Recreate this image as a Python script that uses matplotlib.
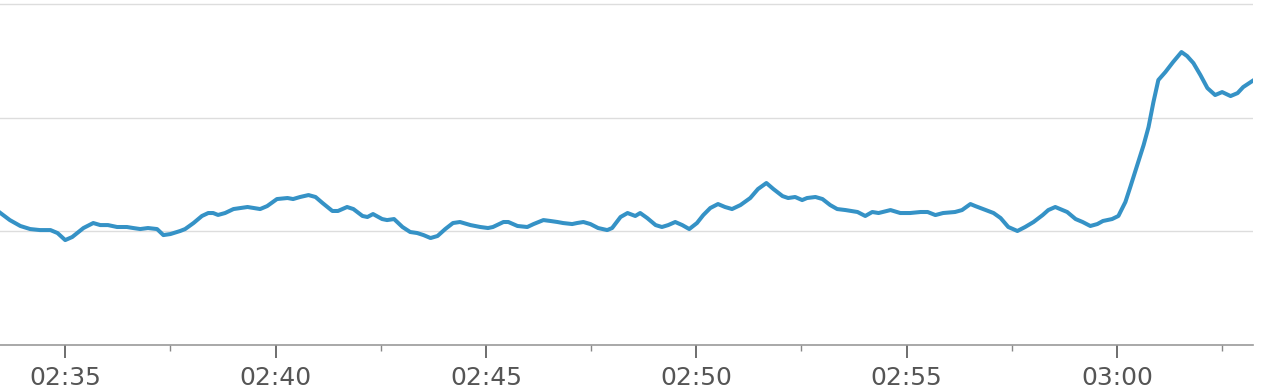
import pandas as pd
import numpy as np
import matplotlib
matplotlib.use('Agg')
import matplotlib.pyplot as plt
import matplotlib.dates as mdates

# Tiempos de las muestras (hora del dia)
tiempos = [
    "02:33:27", "02:33:41", "02:33:56", "02:34:10", "02:34:24", "02:34:39", "02:34:49",
    "02:35:00", "02:35:10", "02:35:26", "02:35:40", "02:35:50", "02:36:01", "02:36:14",
    "02:36:28", "02:36:37", "02:36:47", "02:36:58", "02:37:11", "02:37:20", "02:37:30",
    "02:37:44", "02:37:51", "02:38:03", "02:38:15", "02:38:24", "02:38:31", "02:38:38",
    "02:38:48", "02:39:00", "02:39:20", "02:39:38", "02:39:48", "02:40:02", "02:40:17",
    "02:40:25", "02:40:35", "02:40:47", "02:40:57", "02:41:07", "02:41:21", "02:41:29",
    "02:41:42", "02:41:51", "02:42:04", "02:42:11", "02:42:19", "02:42:32", "02:42:39",
    "02:42:49", "02:43:01", "02:43:12", "02:43:22", "02:43:31", "02:43:41", "02:43:51",
    "02:44:02", "02:44:13", "02:44:23", "02:44:38", "02:44:52", "02:45:03", "02:45:10",
    "02:45:25", "02:45:32", "02:45:45", "02:45:59", "02:46:08", "02:46:22", "02:46:32",
    "02:46:42", "02:46:50", "02:47:03", "02:47:10", "02:47:19", "02:47:29", "02:47:40",
    "02:47:53", "02:48:00", "02:48:12", "02:48:22", "02:48:33", "02:48:40", "02:48:50",
    "02:49:02", "02:49:11", "02:49:20", "02:49:30", "02:49:40", "02:49:50", "02:50:01",
    "02:50:10", "02:50:20", "02:50:31", "02:50:41", "02:50:51", "02:51:03", "02:51:17",
    "02:51:28", "02:51:40", "02:51:50", "02:52:03", "02:52:11", "02:52:21", "02:52:31",
    "02:52:38", "02:52:50", "02:53:00", "02:53:11", "02:53:21", "02:53:33", "02:53:50",
    "02:54:01", "02:54:11", "02:54:20", "02:54:37", "02:54:51", "02:55:05", "02:55:20",
    "02:55:30", "02:55:41", "02:55:52", "02:56:09", "02:56:19", "02:56:31", "02:56:38",
    "02:56:49", "02:57:04", "02:57:14", "02:57:25", "02:57:38", "02:57:49", "02:58:01",
    "02:58:14", "02:58:22", "02:58:32", "02:58:39", "02:58:49", "02:59:01", "02:59:11",
    "02:59:22", "02:59:32", "02:59:40", "02:59:53", "03:00:02", "03:00:12", "03:00:19",
    "03:00:28", "03:00:38", "03:00:45", "03:00:52", "03:00:59", "03:01:09", "03:01:20",
    "03:01:32", "03:01:40", "03:01:49", "03:01:59", "03:02:09", "03:02:20", "03:02:30",
    "03:02:42", "03:02:52", "03:03:00", "03:03:13",
]

# Valores de la serie
valores = [
    11.64, 10.99, 10.47, 10.20, 10.11, 10.11, 9.85,
    9.23, 9.50, 10.29, 10.73, 10.55, 10.55, 10.38,
    10.38, 10.29, 10.20, 10.29, 10.20, 9.67, 9.76,
    10.03, 10.20, 10.73, 11.35, 11.61, 11.61, 11.44,
    11.61, 11.96, 12.14, 11.96, 12.22, 12.84, 12.93,
    12.84, 13.02, 13.19, 13.02, 12.49, 11.79, 11.79,
    12.14, 11.96, 11.35, 11.26, 11.52, 11.08, 10.99,
    11.08, 10.38, 9.94, 9.85, 9.67, 9.41, 9.59,
    10.20, 10.73, 10.82, 10.55, 10.38, 10.29, 10.38,
    10.82, 10.82, 10.47, 10.38, 10.64, 10.99, 10.91,
    10.82, 10.73, 10.64, 10.73, 10.82, 10.64, 10.29,
    10.11, 10.29, 11.26, 11.61, 11.35, 11.61, 11.17,
    10.55, 10.38, 10.55, 10.82, 10.55, 10.20, 10.73,
    11.43, 12.05, 12.40, 12.14, 11.96, 12.31, 12.93,
    13.72, 14.25, 13.72, 13.10, 12.93, 13.02, 12.75,
    12.93, 13.02, 12.84, 12.31, 11.96, 11.87, 11.70,
    11.35, 11.70, 11.61, 11.87, 11.61, 11.61, 11.70,
    11.70, 11.43, 11.61, 11.70, 11.87, 12.40, 12.22,
    11.96, 11.61, 11.17, 10.38, 10.03, 10.38, 10.82,
    11.43, 11.87, 12.14, 11.96, 11.70, 11.08, 10.82,
    10.47, 10.64, 10.91, 11.08, 11.35, 12.58, 13.90,
    15.66, 17.59, 19.17, 21.37, 23.31, 24.01, 24.89,
    25.77, 25.42, 24.80, 23.75, 22.60, 21.99, 22.25,
    21.90, 22.16, 22.69, 23.22,
]

inicio = "02:33:27"
fin = "03:03:14"
dia = "2024-01-01 "

x = pd.to_datetime([dia + t for t in tiempos])

fig = plt.figure(figsize=(12.62, 3.92), dpi=100)
ax = fig.add_axes([0, 47 / 392, 1253 / 1262, 345 / 392])

ax.plot(x, valores, color='#3592c6', linewidth=2.9, solid_joinstyle='round', zorder=3)

# Rejilla horizontal
ax.set_yticks([10, 20, 30])
ax.yaxis.grid(True, color='#dddddd', linewidth=1.0)
ax.tick_params(axis='y', left=False, labelleft=False)

# Marcas del eje x (menores a media distancia entre las principales)
ax.xaxis.set_major_locator(mdates.MinuteLocator(byminute=range(0, 60, 5)))
ax.xaxis.set_major_formatter(mdates.DateFormatter('%H:%M'))
minor = pd.date_range(dia + "02:37:30", dia + "03:02:30", freq='5min')
ax.set_xticks(minor, minor=True)
ax.tick_params(axis='x', which='major', length=9, width=1.2, color='#555555',
               labelsize=18, labelcolor='#555555', pad=6)
ax.tick_params(axis='x', which='minor', length=4, width=1.0, color='#888888')

# Limites al final, para que set_xticks no los cambie
ax.set_xlim(pd.Timestamp(dia + inicio), pd.Timestamp(dia + fin))
ax.set_ylim(0, 30.35)

for s in ['top', 'left', 'right']:
    ax.spines[s].set_visible(False)
ax.spines['bottom'].set_color('#999999')
ax.spines['bottom'].set_linewidth(1.2)

plt.savefig('out.png', dpi=100)
